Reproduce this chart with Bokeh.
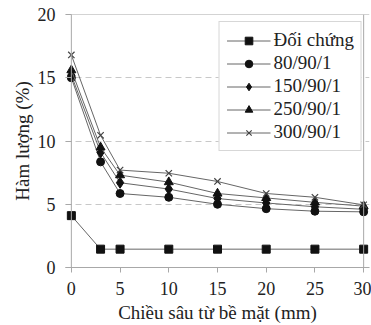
from bokeh.plotting import figure
from bokeh.models import Range1d, FixedTicker, Legend, LegendItem, Span
from bokeh.embed import file_html
from bokeh.resources import INLINE

depth = [0, 3, 5, 10, 15, 20, 25, 30]
series_names = ["Đối chứng", "80/90/1", "150/90/1", "250/90/1", "300/90/1"]
doi_chung = [4.1, 1.45, 1.45, 1.45, 1.45, 1.45, 1.45, 1.45]
s80 = [15.0, 8.35, 5.85, 5.55, 5.0, 4.65, 4.45, 4.4]
s150 = [15.2, 9.1, 6.7, 6.2, 5.45, 5.1, 4.8, 4.6]
s250 = [15.6, 9.5, 7.3, 6.75, 5.85, 5.5, 5.15, 4.85]
s300 = [16.8, 10.45, 7.7, 7.45, 6.8, 5.85, 5.55, 4.95]
x_ticks = [0, 5, 10, 15, 20, 25, 30]
y_ticks = [0, 5, 10, 15, 20]

FONT = "Liberation Serif"
AXC = "#a8a8a8"

p = figure(width=371, height=325, output_backend="svg", toolbar_location=None,
           x_range=Range1d(-0.6, 30.6), y_range=Range1d(0, 20),
           min_border_left=65, min_border_right=2, min_border_top=14, min_border_bottom=58)
p.outline_line_color = None
p.background_fill_color = "white"
p.border_fill_color = "white"

p.xgrid.grid_line_color = None
p.ygrid.grid_line_color = "#c8c8c8"
p.ygrid.grid_line_dash = "6 4"
p.ygrid.ticker = FixedTicker(ticks=[5, 10, 15])

for ax in (p.xaxis[0], p.yaxis[0]):
    ax.axis_line_color = AXC
    ax.major_tick_line_color = AXC
    ax.minor_tick_line_color = None
    ax.major_label_text_font = FONT
    ax.major_label_text_color = "#222222"
    ax.axis_label_text_font = FONT
    ax.axis_label_text_font_style = "normal"
    ax.axis_label_text_color = "#222222"

p.xaxis.major_tick_out = 5
p.xaxis.major_tick_in = 0
p.xaxis.major_label_text_font_size = "18px"
p.xaxis.axis_label_text_font_size = "19px"

# y axis: line drawn at x=0 via a Span, ticks reach inward to it
p.yaxis.axis_line_color = None
p.yaxis.major_tick_out = 0
p.yaxis.major_tick_in = 6
p.yaxis.major_label_text_font_size = "18px"
p.yaxis.axis_label_text_font_size = "19px"

p.xaxis.ticker = FixedTicker(ticks=x_ticks)
p.yaxis.ticker = FixedTicker(ticks=y_ticks)
p.xaxis.axis_label = "Chiều sâu từ bề mặt (mm)"
p.yaxis.axis_label = "Hàm lượng (%)"
p.xaxis.major_label_standoff = 9
p.yaxis.major_label_standoff = 10
p.xaxis.axis_label_standoff = 4
p.yaxis.axis_label_standoff = 2

p.add_layout(Span(location=0, dimension="height", line_color=AXC, line_width=1))
p.add_layout(Span(location=20, dimension="width", line_color=AXC, line_width=1))
p.add_layout(Span(location=30, dimension="height", line_color=AXC, line_width=1))

line_col = "#666666"
mk_col = "#111111"
all_series = [doi_chung, s80, s150, s250, s300]
markers = ["square", "circle", "diamond", "triangle", "x"]
sizes = [8, 8, 11, 9, 9]
items = []
for name, ys, mk, sz in zip(series_names, all_series, markers, sizes):
    r1 = p.line(depth, ys, line_color=line_col, line_width=1)
    if mk == "x":
        r2 = p.scatter(depth, ys, marker=mk, size=sz, line_color="#444444", line_width=1.2)
    else:
        r2 = p.scatter(depth, ys, marker=mk, size=sz, fill_color=mk_col, line_color=mk_col)
    items.append(LegendItem(label=name, renderers=[r1, r2]))

legend = Legend(items=items, location="top_right")
legend.label_text_font = FONT
legend.label_text_font_size = "19px"
legend.label_text_color = "#222222"
legend.border_line_color = "#b0b0b0"
legend.border_line_width = 1
legend.background_fill_alpha = 1
legend.spacing = 1
legend.glyph_height = 19
legend.glyph_width = 44
legend.label_height = 19
legend.label_standoff = 3
legend.padding = 7
legend.margin = 7
p.add_layout(legend)

open("out.html", "w").write(file_html(p, INLINE))
